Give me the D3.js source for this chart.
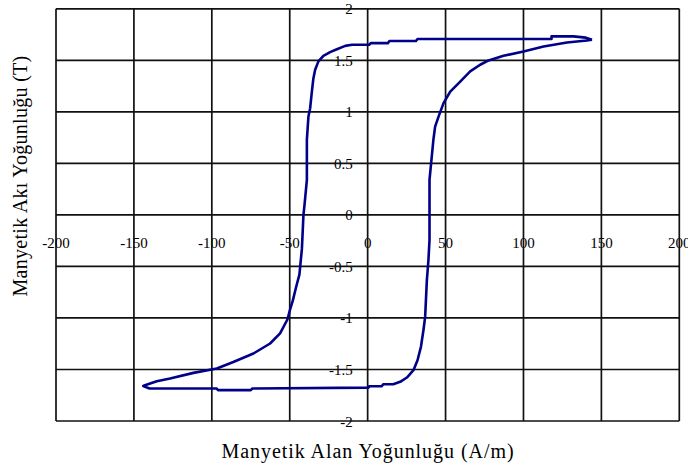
<!DOCTYPE html>
<html>
<head>
<meta charset="utf-8">
<script src="https://cdn.jsdelivr.net/npm/d3@7"></script>
<style>
  body { margin: 0; background: #fff; }
  text { font-family: "Liberation Serif", "Times New Roman", serif; fill: #000; }
</style>
</head>
<body>
<div id="chart"></div>
<script>
// Chart size
const W = 688, H = 468;
const plot = { left: 56, right: 679.3, top: 8.8, bottom: 421 };

// Ticks
const xTicks = [-200, -150, -100, -50, 0, 50, 100, 150, 200];
const yTicks = [-2, -1.5, -1, -0.5, 0, 0.5, 1, 1.5, 2];

// Descending branch (H in A/m, B in T), from +Hmax to -Hmax
const descendingH = [144, 140, 132, 118, 118, 60, 32, 31, 14, 13, 2, 1, -10, -14.4, -20.9, -24.1, -28.4, -31.6, -33.7, -34.8, -35.8, -36.9, -38, -39, -39, -40.5, -41.2, -41.5, -42.2, -42.9, -43.8, -45.9, -48, -49.8, -51.5, -56.2, -62.6, -73.3, -86.2, -96.8, -111.8, -126.8, -135.3, -142.9, -144];
const descendingB = [1.70, 1.72, 1.732, 1.732, 1.707, 1.707, 1.707, 1.687, 1.687, 1.667, 1.667, 1.651, 1.651, 1.64, 1.60, 1.58, 1.544, 1.49, 1.408, 1.327, 1.197, 1.036, 0.954, 0.73, 0.34, 0.1, 0, -0.1, -0.33, -0.44, -0.58, -0.70, -0.83, -0.92, -1.015, -1.15, -1.248, -1.345, -1.427, -1.49, -1.533, -1.588, -1.614, -1.653, -1.66];

// Ascending branch, from -Hmax back to +Hmax
const ascendingH = [-144, -140, -97, -96, -75, -74, 0.5, 1, 9, 10, 16.4, 20.9, 25.2, 29.4, 32, 34.2, 35.8, 36.9, 38, 39, 39.7, 39.7, 42.2, 43.3, 45.5, 48.7, 53, 59.4, 65.8, 72.2, 77.6, 87.2, 100, 112.9, 127.9, 140.7, 144];
const ascendingB = [-1.66, -1.685, -1.685, -1.70, -1.70, -1.685, -1.676, -1.663, -1.663, -1.643, -1.643, -1.62, -1.578, -1.507, -1.41, -1.28, -1.119, -0.99, -0.633, -0.44, -0.245, 0.34, 0.73, 0.857, 0.954, 1.085, 1.197, 1.294, 1.392, 1.457, 1.499, 1.544, 1.586, 1.635, 1.673, 1.693, 1.70];

const svg = d3.select("#chart").append("svg")
    .attr("width", W)
    .attr("height", H);

const x = d3.scaleLinear().domain([-200, 200]).range([plot.left, plot.right]);
const y = d3.scaleLinear().domain([-2, 2]).range([plot.bottom, plot.top]);

// Tick labels (drawn first, grid goes over them like in the original)
svg.append("g").selectAll("text")
    .data(xTicks)
    .enter().append("text")
    .attr("x", d => x(d))
    .attr("y", y(0) + 33)
    .attr("text-anchor", "middle")
    .style("font-size", "15px")
    .text(d => d);

svg.append("g").selectAll("text")
    .data(yTicks)
    .enter().append("text")
    .attr("x", x(0) - 15)
    .attr("y", d => y(d) + 5.5)
    .attr("text-anchor", "end")
    .style("font-size", "15px")
    .text(d => d);

// Grid lines
const grid = svg.append("g")
    .attr("stroke", "#111")
    .attr("stroke-width", 1.7);

grid.selectAll(".vx")
    .data(xTicks)
    .enter().append("line")
    .attr("x1", d => x(d)).attr("x2", d => x(d))
    .attr("y1", plot.top).attr("y2", plot.bottom);

grid.selectAll(".hy")
    .data(yTicks)
    .enter().append("line")
    .attr("y1", d => y(d)).attr("y2", d => y(d))
    .attr("x1", plot.left).attr("x2", plot.right);

// Hysteresis loop
const loop = descendingH.map((h, i) => [h, descendingB[i]])
    .concat(ascendingH.map((h, i) => [h, ascendingB[i]]));

const line = d3.line()
    .x(d => x(d[0]))
    .y(d => y(d[1]));

svg.append("path")
    .datum(loop)
    .attr("d", line)
    .attr("fill", "none")
    .attr("stroke", "#000088")
    .attr("stroke-width", 2.6)
    .attr("stroke-linejoin", "round");

// Axis titles
svg.append("text")
    .attr("x", 368)
    .attr("y", 458)
    .attr("text-anchor", "middle")
    .style("font-size", "20px")
    .style("letter-spacing", "0.95px")
    .text("Manyetik Alan Yoğunluğu (A/m)");

svg.append("text")
    .attr("transform", "translate(27,176) rotate(-90)")
    .attr("text-anchor", "middle")
    .style("font-size", "20px")
    .style("letter-spacing", "0.3px")
    .text("Manyetik Akı Yoğunluğu (T)");
</script>
</body>
</html>
